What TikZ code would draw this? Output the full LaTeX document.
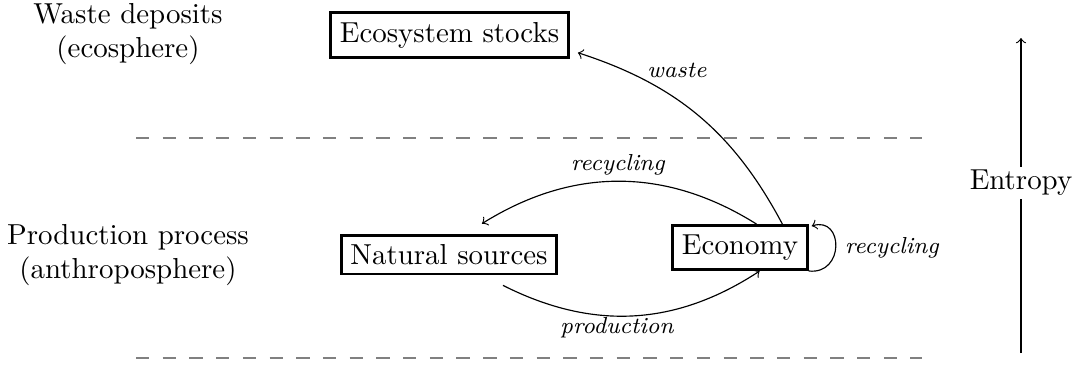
\documentclass[tikz,border=0pt]{standalone}
\usetikzlibrary{calc}
\begin{document}
\begin{tikzpicture}[x=0.346pt,y=0.346pt,
  box/.style={draw,line width=1pt,inner sep=3.2pt},
  side/.style={align=center},
  lab/.style={font=\footnotesize\itshape},
  flow/.style={->},
  sep/.style={gray,line width=0.6pt,dash pattern=on 4.62pt off 4.62pt}]
\useasboundingbox (0,0) rectangle (1078,-365);
% separators
\draw[sep] (136,-138) -- (922,-138);
\draw[sep] (136,-358) -- (922,-358);
% side labels
\node[side] (wd) at (128,-34) {Waste deposits\\(ecosphere)};
\node[side] (pp) at (128,-255) {Production process\\(anthroposphere)};
% boxes
\node[box] (stocks) at (449.5,-35) {Ecosystem stocks};
\node[box] (natural) at (449,-254.5) {Natural sources};
\node[box] (economy) at (740,-247.5) {Economy};
% endpoints
\coordinate (wend) at ($(stocks.south east)+(8,6)$);
\coordinate (rend) at ($(natural.north)+(33,10)$);
\coordinate (pstart) at ($(natural.south)+(54,-10)$);
\coordinate (lend) at ($(economy.north east)+(3,-2)$);
% arrows
\draw[flow] (economy.29) to[bend right=22] (wend);
\draw[flow] (economy.55) to[bend right=32] (rend);
\draw[flow] (pstart) to[bend right=30] (economy.-50);
\draw[flow] (economy.south east) .. controls +(36,-4) and +(32,10) .. (lend);
% labels
\node[lab] (lwaste) at (677,-70) {waste};
\node[lab] (lrec1) at (618,-165) {recycling};
\node[lab] (lprod) at (617,-328) {production};
\node[lab] (lrec2) at (892,-248) {recycling};
% entropy
\coordinate (ebot) at (1021,-353);
\coordinate (etop) at (1021,-38);
\draw[flow] (ebot) -- (etop);
\node[fill=white,inner sep=1pt] (entropy) at (1021,-183) {Entropy};
\end{tikzpicture}
\end{document}
